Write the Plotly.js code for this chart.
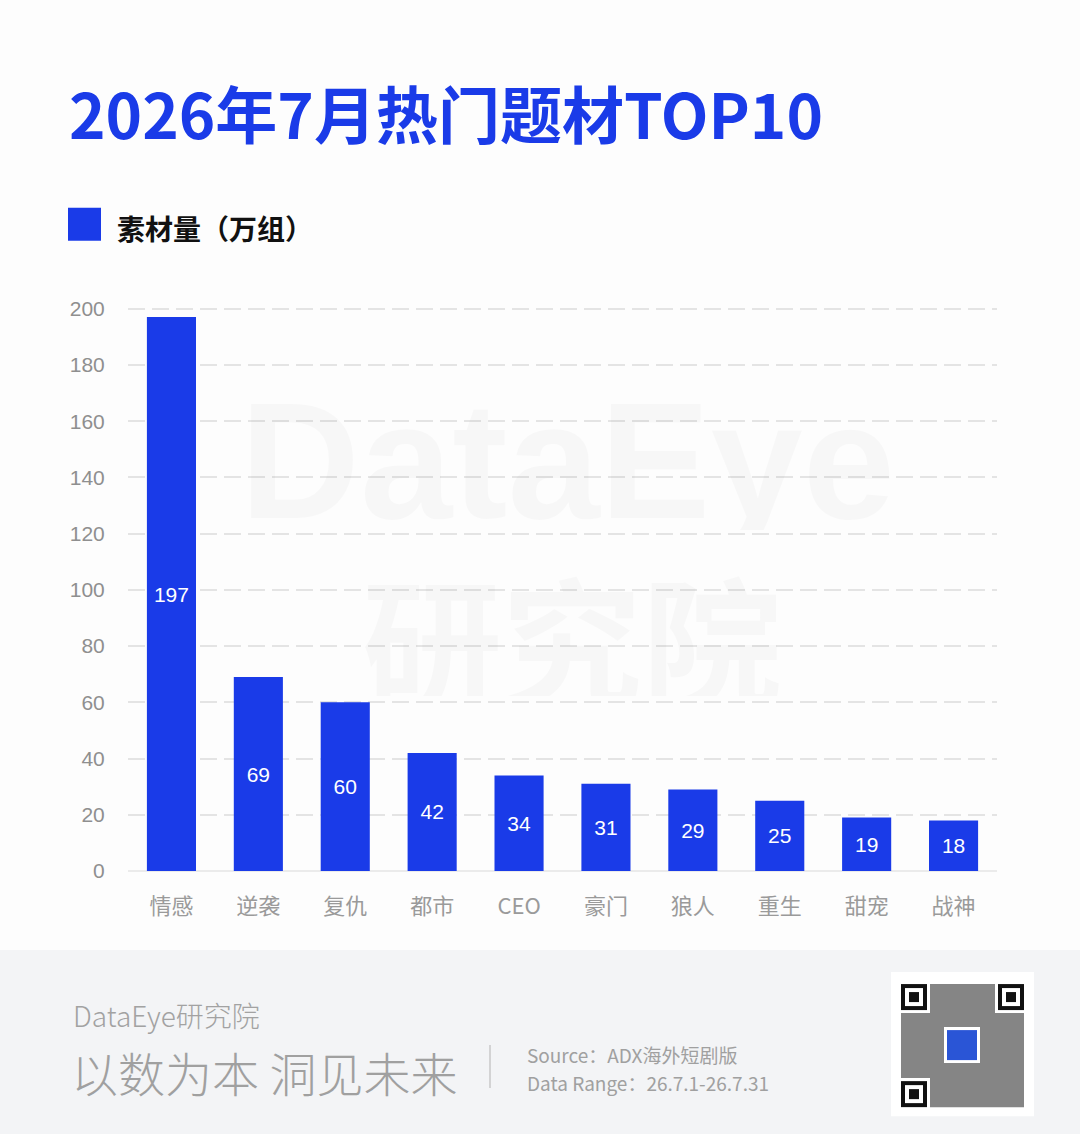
<!DOCTYPE html>
<html>
<head>
<meta charset="utf-8">
<script src="https://cdn.plot.ly/plotly-3.0.1.min.js"></script>
<style>
html,body{margin:0;padding:0;background:#fdfdfd;}
#chart{width:1080px;height:1134px;}
</style>
</head>
<body>
<div id="chart"></div>
<script>
const categories = ["情感","逆袭","复仇","都市","CEO","豪门","狼人","重生","甜宠","战神"];
const values = [197, 69, 60, 42, 34, 31, 29, 25, 19, 18];
const yTicks = [0,20,40,60,80,100,120,140,160,180,200];
const seriesName = "素材量（万组）";
const titleText = "2026年7月热门题材TOP10";

const W = 1080, H = 1134;
const YMAX = 200.6;
const L = 128, R = 83, B = 263;
const PH = 562 * YMAX / 200;
const T = H - B - PH;
const PW = W - L - R;
const X = px => (px - L) / PW;
const Y = py => (H - B - py) / PH;

const BLUE = "#1a3be8";
const FONT = "Liberation Sans, Noto Sans CJK SC, sans-serif";
const CJK = "Noto Sans CJK SC, sans-serif";

const trace = {
  type: "bar",
  x: categories,
  y: values,
  name: seriesName,
  marker: {color: BLUE},
  text: values.map(String),
  textposition: "inside",
  insidetextanchor: "middle",
  textangle: 0,
  constraintext: "none",
  textfont: {color: "#ffffff", size: 21, family: FONT},
  hoverinfo: "x+y"
};

const shapes = [];
const annotations = [];
const pr = (x0,x1,y0,y1,fill,layer) => shapes.push({type:"rect", xref:"paper", yref:"paper",
  x0:X(x0), x1:X(x1), y0:Y(y1), y1:Y(y0), fillcolor:fill, line:{width:0}, layer:layer||"above"});

// footer band
pr(0, W, 950, H, "#f3f4f6", "below");
// legend swatch
pr(68, 101, 208, 241, BLUE);
// footer divider
shapes.push({type:"line", xref:"paper", yref:"paper", x0:X(490), x1:X(490), y0:Y(1088), y1:Y(1045),
  line:{color:"#c8c8c8", width:1.5}});
// QR code approximation
pr(891, 1034, 972, 1116, "#ffffff");
pr(901, 1024, 984, 1107, "#858585");
[[901,984],[998,984],[901,1081]].forEach(([fx,fy])=>{
  pr(fx-3, fx+29, fy-3, fy+29, "#ffffff");
  pr(fx, fx+26, fy, fy+26, "#111111");
  pr(fx+4, fx+22, fy+4, fy+22, "#ffffff");
  pr(fx+8, fx+18, fy+8, fy+18, "#111111");
});
pr(944, 980, 1027, 1063, "#ffffff");
pr(947, 977, 1030, 1060, "#2a55d6");

// watermark
annotations.push({xref:"paper", yref:"paper", x:X(567), y:Y(460), text:"<b>DataEye</b>", showarrow:false,
  height:140, font:{family:"Liberation Sans, sans-serif", size:166, color:"rgba(0,0,0,0.022)"}, xanchor:"center", yanchor:"middle"});
annotations.push({xref:"paper", yref:"paper", x:X(572), y:Y(636), text:"<b>研究院</b>", showarrow:false,
  height:120, font:{family:CJK, size:140, color:"rgba(0,0,0,0.022)"}, xanchor:"center", yanchor:"middle"});

// legend text
annotations.push({xref:"paper", yref:"paper", x:X(115), y:Y(228), text:"<b>"+seriesName+"</b>", showarrow:false,
  font:{family:CJK, size:28, color:"#111111"}, xanchor:"left", yanchor:"middle"});

// footer texts
annotations.push({xref:"paper", yref:"paper", x:X(71), y:Y(1015), text:"DataEye研究院", showarrow:false,
  font:{family:CJK, size:28, color:"#a2a2a2", weight:300}, xanchor:"left", yanchor:"middle"});
annotations.push({xref:"paper", yref:"paper", x:X(69), y:Y(1071), text:"以数为本 洞见未来", showarrow:false,
  font:{family:CJK, size:47, color:"#a0a0a0", weight:300}, xanchor:"left", yanchor:"middle"});
annotations.push({xref:"paper", yref:"paper", x:X(525), y:Y(1054), text:"Source：ADX海外短剧版", showarrow:false,
  font:{family:CJK, size:19, color:"#a0a0a0"}, xanchor:"left", yanchor:"middle"});
annotations.push({xref:"paper", yref:"paper", x:X(525), y:Y(1082.5), text:"Data Range：26.7.1-26.7.31", showarrow:false,
  font:{family:CJK, size:19, color:"#a0a0a0"}, xanchor:"left", yanchor:"middle"});

const layout = {
  width: W, height: H,
  margin: {l:L, r:R, t:T, b:B, pad:0},
  paper_bgcolor: "#fdfdfd",
  plot_bgcolor: "rgba(0,0,0,0)",
  showlegend: false,
  bargap: 0.435,
  title: {
    text: "<b>"+titleText+"</b>",
    xref: "container", yref: "container",
    x: 69/W, xanchor: "left",
    y: 1 - 117/H, yanchor: "middle",
    font: {family: CJK, size: 62, color: BLUE}
  },
  xaxis: {
    type: "category",
    tickfont: {family: CJK, size: 22, color: "#9a9a9a"},
    ticks: "outside", ticklen: 16, tickcolor: "rgba(0,0,0,0)",
    showline: false, showgrid: false, zeroline: false,
    fixedrange: true
  },
  yaxis: {
    range: [0, YMAX],
    tickvals: yTicks,
    ticktext: yTicks.map(String),
    tickfont: {family: FONT, size: 21, color: "#8f8f8f"},
    ticks: "outside", ticklen: 18, tickcolor: "rgba(0,0,0,0)",
    showgrid: true, gridcolor: "#e4e4e4", gridwidth: 2, griddash: "17px,7px",
    zeroline: true, zerolinecolor: "#ebebeb", zerolinewidth: 2,
    showline: false, fixedrange: true
  },
  shapes: shapes,
  annotations: annotations
};

Plotly.newPlot("chart", [trace], layout, {displayModeBar: false, staticPlot: true});
</script>
</body>
</html>
